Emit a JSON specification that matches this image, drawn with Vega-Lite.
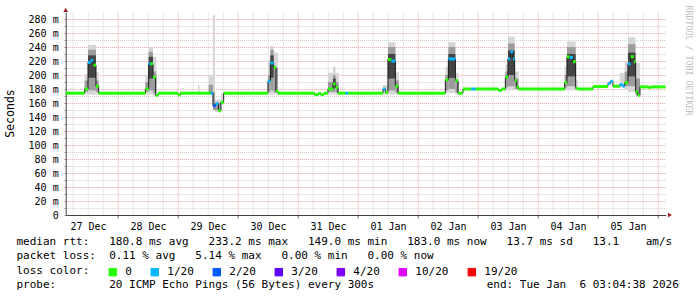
{
  "$schema": "https://vega.github.io/schema/vega-lite/v6.json",
  "width": 600,
  "height": 203,
  "autosize": "none",
  "padding": {"left": 65.69, "top": 12, "right": 31.31, "bottom": 82},
  "background": "white",
  "config": {"view": {"stroke": null}, "font": "DejaVu Sans Mono"},
  "datasets": {
    "median": [
      {"t":"2025-12-27T03:04","t2":"2025-12-27T10:40","ms":174,"loss":"0"},
      {"t":"2025-12-27T10:40","t2":"2025-12-27T12:00","ms":180,"loss":"0"},
      {"t":"2025-12-27T12:00","t2":"2025-12-27T13:04","ms":218,"loss":"1/20"},
      {"t":"2025-12-27T13:04","t2":"2025-12-27T14:09","ms":221,"loss":"1/20"},
      {"t":"2025-12-27T14:09","t2":"2025-12-27T15:11","ms":214,"loss":"0"},
      {"t":"2025-12-27T15:11","t2":"2025-12-27T16:16","ms":184,"loss":"0"},
      {"t":"2025-12-27T16:16","t2":"2025-12-28T10:57","ms":174,"loss":"0"},
      {"t":"2025-12-28T10:57","t2":"2025-12-28T12:16","ms":180,"loss":"0"},
      {"t":"2025-12-28T12:16","t2":"2025-12-28T13:04","ms":216,"loss":"1/20"},
      {"t":"2025-12-28T13:04","t2":"2025-12-28T13:59","ms":216,"loss":"0"},
      {"t":"2025-12-28T13:59","t2":"2025-12-28T15:04","ms":197,"loss":"0"},
      {"t":"2025-12-28T15:04","t2":"2025-12-28T16:04","ms":171,"loss":"0"},
      {"t":"2025-12-28T16:04","t2":"2025-12-29T00:00","ms":174,"loss":"0"},
      {"t":"2025-12-29T00:00","t2":"2025-12-29T00:57","ms":171.5,"loss":"0"},
      {"t":"2025-12-29T00:57","t2":"2025-12-29T13:04","ms":174,"loss":"0"},
      {"t":"2025-12-29T13:04","t2":"2025-12-29T13:59","ms":174,"loss":"1/20"},
      {"t":"2025-12-29T13:59","t2":"2025-12-29T15:04","ms":156,"loss":"2/20"},
      {"t":"2025-12-29T15:04","t2":"2025-12-29T16:09","ms":159,"loss":"1/20"},
      {"t":"2025-12-29T16:09","t2":"2025-12-29T17:11","ms":149,"loss":"0"},
      {"t":"2025-12-29T17:11","t2":"2025-12-29T18:16","ms":161,"loss":"0"},
      {"t":"2025-12-29T18:16","t2":"2025-12-30T11:59","ms":174,"loss":"0"},
      {"t":"2025-12-30T11:59","t2":"2025-12-30T12:57","ms":191,"loss":"1/20"},
      {"t":"2025-12-30T12:57","t2":"2025-12-30T14:16","ms":217,"loss":"1/20"},
      {"t":"2025-12-30T14:16","t2":"2025-12-30T15:11","ms":211,"loss":"0"},
      {"t":"2025-12-30T15:11","t2":"2025-12-30T15:59","ms":177,"loss":"0"},
      {"t":"2025-12-30T15:59","t2":"2025-12-31T06:40","ms":174,"loss":"0"},
      {"t":"2025-12-31T06:40","t2":"2025-12-31T08:16","ms":172,"loss":"0"},
      {"t":"2025-12-31T08:16","t2":"2025-12-31T09:04","ms":174,"loss":"0"},
      {"t":"2025-12-31T09:04","t2":"2025-12-31T10:23","ms":172,"loss":"0"},
      {"t":"2025-12-31T10:23","t2":"2025-12-31T11:59","ms":174,"loss":"0"},
      {"t":"2025-12-31T11:59","t2":"2025-12-31T13:59","ms":180,"loss":"0"},
      {"t":"2025-12-31T13:59","t2":"2025-12-31T15:04","ms":187,"loss":"0"},
      {"t":"2025-12-31T15:04","t2":"2025-12-31T15:59","ms":182,"loss":"0"},
      {"t":"2025-12-31T15:59","t2":"2025-12-31T18:57","ms":174,"loss":"0"},
      {"t":"2025-12-31T18:57","t2":"2025-12-31T19:59","ms":174,"loss":"1/20"},
      {"t":"2025-12-31T19:59","t2":"2026-01-01T09:59","ms":174,"loss":"0"},
      {"t":"2026-01-01T09:59","t2":"2026-01-01T10:57","ms":180,"loss":"1/20"},
      {"t":"2026-01-01T10:57","t2":"2026-01-01T11:59","ms":175,"loss":"0"},
      {"t":"2026-01-01T11:59","t2":"2026-01-01T13:21","ms":222,"loss":"0"},
      {"t":"2026-01-01T13:21","t2":"2026-01-01T14:57","ms":220,"loss":"1/20"},
      {"t":"2026-01-01T14:57","t2":"2026-01-01T15:59","ms":184,"loss":"0"},
      {"t":"2026-01-01T15:59","t2":"2026-01-02T10:57","ms":174,"loss":"0"},
      {"t":"2026-01-02T10:57","t2":"2026-01-02T12:09","ms":193,"loss":"0"},
      {"t":"2026-01-02T12:09","t2":"2026-01-02T14:57","ms":223,"loss":"1/20"},
      {"t":"2026-01-02T14:57","t2":"2026-01-02T15:59","ms":192,"loss":"0"},
      {"t":"2026-01-02T15:59","t2":"2026-01-02T17:59","ms":174,"loss":"0"},
      {"t":"2026-01-02T17:59","t2":"2026-01-02T21:21","ms":180,"loss":"0"},
      {"t":"2026-01-02T21:21","t2":"2026-01-02T23:04","ms":180,"loss":"1/20"},
      {"t":"2026-01-02T23:04","t2":"2026-01-03T08:16","ms":180,"loss":"0"},
      {"t":"2026-01-03T08:16","t2":"2026-01-03T09:28","ms":178,"loss":"0"},
      {"t":"2026-01-03T09:28","t2":"2026-01-03T10:57","ms":180,"loss":"0"},
      {"t":"2026-01-03T10:57","t2":"2026-01-03T11:59","ms":197,"loss":"0"},
      {"t":"2026-01-03T11:59","t2":"2026-01-03T12:57","ms":223,"loss":"1/20"},
      {"t":"2026-01-03T12:57","t2":"2026-01-03T13:59","ms":233.2,"loss":"1/20"},
      {"t":"2026-01-03T13:59","t2":"2026-01-03T14:40","ms":223,"loss":"1/20"},
      {"t":"2026-01-03T14:40","t2":"2026-01-03T15:28","ms":192,"loss":"0"},
      {"t":"2026-01-03T15:28","t2":"2026-01-03T16:16","ms":183,"loss":"0"},
      {"t":"2026-01-03T16:16","t2":"2026-01-04T10:40","ms":180,"loss":"0"},
      {"t":"2026-01-04T10:40","t2":"2026-01-04T11:35","ms":189,"loss":"0"},
      {"t":"2026-01-04T11:35","t2":"2026-01-04T12:40","ms":226,"loss":"0"},
      {"t":"2026-01-04T12:40","t2":"2026-01-04T13:59","ms":225,"loss":"1/20"},
      {"t":"2026-01-04T13:59","t2":"2026-01-04T15:04","ms":219,"loss":"0"},
      {"t":"2026-01-04T15:04","t2":"2026-01-04T15:52","ms":181,"loss":"0"},
      {"t":"2026-01-04T15:52","t2":"2026-01-04T21:59","ms":180,"loss":"0"},
      {"t":"2026-01-04T21:59","t2":"2026-01-05T03:59","ms":183.5,"loss":"0"},
      {"t":"2026-01-05T03:59","t2":"2026-01-05T04:57","ms":188,"loss":"1/20"},
      {"t":"2026-01-05T04:57","t2":"2026-01-05T05:59","ms":191,"loss":"1/20"},
      {"t":"2026-01-05T05:59","t2":"2026-01-05T08:40","ms":184,"loss":"0"},
      {"t":"2026-01-05T08:40","t2":"2026-01-05T09:59","ms":186,"loss":"1/20"},
      {"t":"2026-01-05T09:59","t2":"2026-01-05T10:40","ms":184,"loss":"1/20"},
      {"t":"2026-01-05T10:40","t2":"2026-01-05T11:59","ms":189,"loss":"0"},
      {"t":"2026-01-05T11:59","t2":"2026-01-05T13:04","ms":216,"loss":"1/20"},
      {"t":"2026-01-05T13:04","t2":"2026-01-05T14:23","ms":226,"loss":"0"},
      {"t":"2026-01-05T14:23","t2":"2026-01-05T15:04","ms":219,"loss":"0"},
      {"t":"2026-01-05T15:04","t2":"2026-01-05T15:52","ms":176,"loss":"0"},
      {"t":"2026-01-05T15:52","t2":"2026-01-05T16:47","ms":171,"loss":"0"},
      {"t":"2026-01-05T16:47","t2":"2026-01-05T20:16","ms":183,"loss":"0"},
      {"t":"2026-01-05T20:16","t2":"2026-01-05T21:04","ms":182,"loss":"0"},
      {"t":"2026-01-05T21:04","t2":"2026-01-06T03:04","ms":183,"loss":"0"}
    ],
    "smoke": [
      {"t":"2025-12-27T10:40","t2":"2025-12-27T12:00","lo":172,"hi":201,"s":"a"},
      {"t":"2025-12-27T12:00","t2":"2025-12-27T15:11","lo":172,"hi":243,"s":"a"},
      {"t":"2025-12-27T15:11","t2":"2025-12-27T16:16","lo":172,"hi":204,"s":"a"},
      {"t":"2025-12-28T10:57","t2":"2025-12-28T12:16","lo":172,"hi":199,"s":"a"},
      {"t":"2025-12-28T12:16","t2":"2025-12-28T13:59","lo":172,"hi":240,"s":"a"},
      {"t":"2025-12-28T13:59","t2":"2025-12-28T15:20","lo":170,"hi":226,"s":"a"},
      {"t":"2025-12-29T07:59","t2":"2025-12-29T08:40","lo":174,"hi":186,"s":"a"},
      {"t":"2025-12-29T12:16","t2":"2025-12-29T13:59","lo":172,"hi":200,"s":"a"},
      {"t":"2025-12-29T13:59","t2":"2025-12-29T14:47","lo":150,"hi":286,"s":"a"},
      {"t":"2025-12-29T14:47","t2":"2025-12-29T17:11","lo":147,"hi":165,"s":"a"},
      {"t":"2025-12-29T17:11","t2":"2025-12-29T18:16","lo":158,"hi":174,"s":"a"},
      {"t":"2025-12-30T11:59","t2":"2025-12-30T12:57","lo":172,"hi":222,"s":"a"},
      {"t":"2025-12-30T12:57","t2":"2025-12-30T14:16","lo":172,"hi":242,"s":"a"},
      {"t":"2025-12-30T14:16","t2":"2025-12-30T15:59","lo":172,"hi":232,"s":"a"},
      {"t":"2025-12-31T11:59","t2":"2025-12-31T13:59","lo":172,"hi":203,"s":"a"},
      {"t":"2025-12-31T13:59","t2":"2025-12-31T15:04","lo":172,"hi":212,"s":"a"},
      {"t":"2025-12-31T15:04","t2":"2025-12-31T16:16","lo":172,"hi":203,"s":"a"},
      {"t":"2026-01-01T09:59","t2":"2026-01-01T11:59","lo":172,"hi":186,"s":"a"},
      {"t":"2026-01-01T11:59","t2":"2026-01-01T14:57","lo":172,"hi":247,"s":"a"},
      {"t":"2026-01-01T14:57","t2":"2026-01-01T16:23","lo":172,"hi":204,"s":"a"},
      {"t":"2026-01-02T10:57","t2":"2026-01-02T12:09","lo":174,"hi":212,"s":"a"},
      {"t":"2026-01-02T12:09","t2":"2026-01-02T14:57","lo":174,"hi":247,"s":"a"},
      {"t":"2026-01-02T14:57","t2":"2026-01-02T16:16","lo":172,"hi":203,"s":"a"},
      {"t":"2026-01-03T10:57","t2":"2026-01-03T11:59","lo":178,"hi":215,"s":"a"},
      {"t":"2026-01-03T11:59","t2":"2026-01-03T14:40","lo":178,"hi":255,"s":"a"},
      {"t":"2026-01-03T14:40","t2":"2026-01-03T16:16","lo":178,"hi":205,"s":"a"},
      {"t":"2026-01-04T10:40","t2":"2026-01-04T11:35","lo":178,"hi":212,"s":"a"},
      {"t":"2026-01-04T11:35","t2":"2026-01-04T15:04","lo":178,"hi":248,"s":"a"},
      {"t":"2026-01-04T15:04","t2":"2026-01-04T15:52","lo":178,"hi":193,"s":"a"},
      {"t":"2026-01-05T08:40","t2":"2026-01-05T10:40","lo":182,"hi":203,"s":"a"},
      {"t":"2026-01-05T10:40","t2":"2026-01-05T11:59","lo":180,"hi":219,"s":"a"},
      {"t":"2026-01-05T11:59","t2":"2026-01-05T14:59","lo":176,"hi":254,"s":"a"},
      {"t":"2026-01-05T14:59","t2":"2026-01-05T16:47","lo":170,"hi":217,"s":"a"},
      {"t":"2025-12-27T10:40","t2":"2025-12-27T12:00","lo":176,"hi":192,"s":"b"},
      {"t":"2025-12-27T12:00","t2":"2025-12-27T15:11","lo":178,"hi":236,"s":"b"},
      {"t":"2025-12-27T15:11","t2":"2025-12-27T16:16","lo":176,"hi":192,"s":"b"},
      {"t":"2025-12-28T10:57","t2":"2025-12-28T12:16","lo":176,"hi":190,"s":"b"},
      {"t":"2025-12-28T12:16","t2":"2025-12-28T13:59","lo":178,"hi":233,"s":"b"},
      {"t":"2025-12-28T13:59","t2":"2025-12-28T15:20","lo":174,"hi":205,"s":"b"},
      {"t":"2025-12-29T12:16","t2":"2025-12-29T13:59","lo":174,"hi":186,"s":"b"},
      {"t":"2025-12-29T13:59","t2":"2025-12-29T14:47","lo":150,"hi":176,"s":"b"},
      {"t":"2025-12-29T14:47","t2":"2025-12-29T17:11","lo":150,"hi":160,"s":"b"},
      {"t":"2025-12-30T11:59","t2":"2025-12-30T12:57","lo":176,"hi":200,"s":"b"},
      {"t":"2025-12-30T12:57","t2":"2025-12-30T14:16","lo":178,"hi":236,"s":"b"},
      {"t":"2025-12-30T14:16","t2":"2025-12-30T15:59","lo":175,"hi":210,"s":"b"},
      {"t":"2025-12-31T11:59","t2":"2025-12-31T13:59","lo":176,"hi":190,"s":"b"},
      {"t":"2025-12-31T13:59","t2":"2025-12-31T15:04","lo":176,"hi":200,"s":"b"},
      {"t":"2025-12-31T15:04","t2":"2025-12-31T16:16","lo":175,"hi":190,"s":"b"},
      {"t":"2026-01-01T11:59","t2":"2026-01-01T14:57","lo":178,"hi":240,"s":"b"},
      {"t":"2026-01-01T14:57","t2":"2026-01-01T16:23","lo":175,"hi":192,"s":"b"},
      {"t":"2026-01-02T10:57","t2":"2026-01-02T12:09","lo":178,"hi":200,"s":"b"},
      {"t":"2026-01-02T12:09","t2":"2026-01-02T14:57","lo":180,"hi":240,"s":"b"},
      {"t":"2026-01-02T14:57","t2":"2026-01-02T16:16","lo":175,"hi":190,"s":"b"},
      {"t":"2026-01-03T10:57","t2":"2026-01-03T11:59","lo":182,"hi":205,"s":"b"},
      {"t":"2026-01-03T11:59","t2":"2026-01-03T14:40","lo":184,"hi":245,"s":"b"},
      {"t":"2026-01-03T14:40","t2":"2026-01-03T16:16","lo":180,"hi":195,"s":"b"},
      {"t":"2026-01-04T10:40","t2":"2026-01-04T11:35","lo":182,"hi":200,"s":"b"},
      {"t":"2026-01-04T11:35","t2":"2026-01-04T15:04","lo":184,"hi":240,"s":"b"},
      {"t":"2026-01-05T10:40","t2":"2026-01-05T11:59","lo":184,"hi":205,"s":"b"},
      {"t":"2026-01-05T11:59","t2":"2026-01-05T14:59","lo":184,"hi":244,"s":"b"},
      {"t":"2026-01-05T14:59","t2":"2026-01-05T16:47","lo":172,"hi":195,"s":"b"},
      {"t":"2025-12-27T12:00","t2":"2025-12-27T15:11","lo":196,"hi":228,"s":"c"},
      {"t":"2025-12-28T12:16","t2":"2025-12-28T13:59","lo":195,"hi":226,"s":"c"},
      {"t":"2025-12-30T12:57","t2":"2025-12-30T14:16","lo":196,"hi":228,"s":"c"},
      {"t":"2025-12-31T13:59","t2":"2025-12-31T15:04","lo":182,"hi":195,"s":"c"},
      {"t":"2026-01-01T11:59","t2":"2026-01-01T14:57","lo":195,"hi":230,"s":"c"},
      {"t":"2026-01-02T12:09","t2":"2026-01-02T14:57","lo":196,"hi":230,"s":"c"},
      {"t":"2026-01-03T11:59","t2":"2026-01-03T14:40","lo":200,"hi":235,"s":"c"},
      {"t":"2026-01-04T11:35","t2":"2026-01-04T15:04","lo":198,"hi":230,"s":"c"},
      {"t":"2026-01-05T11:59","t2":"2026-01-05T14:59","lo":198,"hi":232,"s":"c"}
    ],
    "arrows": [
      {"t":"2026-01-06T04:48","v":0,"shape":"triangle-right"},
      {"t":"2025-12-27T03:04","v":293,"shape":"triangle-up"}
    ]
  },
  "encoding": {
    "x": {
      "field": "t", "type": "temporal",
      "scale": {"domain": [{"year":2025,"month":12,"date":27,"hours":3,"minutes":4,"seconds":38},{"year":2026,"month":1,"date":6,"hours":3,"minutes":4,"seconds":38}], "nice": false},
      "axis": {
        "title": [
          "median\u00a0rtt:\u00a0\u00a0\u00a0180.8\u00a0ms\u00a0avg\u00a0\u00a0\u00a0233.2\u00a0ms\u00a0max\u00a0\u00a0\u00a0149.0\u00a0ms\u00a0min\u00a0\u00a0\u00a0183.0\u00a0ms\u00a0now\u00a0\u00a0\u00a013.7\u00a0ms\u00a0sd\u00a0\u00a0\u00a013.1\u00a0\u00a0\u00a0\u00a0am/s",
          "packet\u00a0loss:\u00a0\u00a00.11\u00a0%\u00a0avg\u00a0\u00a0\u00a05.14\u00a0%\u00a0max\u00a0\u00a0\u00a00.00\u00a0%\u00a0min\u00a0\u00a0\u00a00.00\u00a0%\u00a0now",
          "loss\u00a0color:",
          "probe:\u00a0\u00a0\u00a0\u00a0\u00a0\u00a0\u00a0\u00a020\u00a0ICMP\u00a0Echo\u00a0Pings\u00a0(56\u00a0Bytes)\u00a0every\u00a0300s\u00a0\u00a0\u00a0\u00a0\u00a0\u00a0\u00a0\u00a0\u00a0\u00a0\u00a0\u00a0\u00a0\u00a0\u00a0\u00a0\u00a0end:\u00a0Tue\u00a0Jan\u00a0\u00a06\u00a003:04:38\u00a02026"
        ],
        "titleFont": "DejaVu Sans Mono", "titleFontSize": 11, "titleFontWeight": "normal", "titleColor": "black",
        "titleAlign": "left", "titleBaseline": "alphabetic", "titleX": -49.69, "titleY": 29.5, "titleLineHeight": 14.4, "titleLimit": 2000,
        "tickCount": 40,
        "labelExpr": "timeFormat(datum.value, '%H') == '12' ? timeFormat(datum.value, '%d %b') : ''",
        "labelFont": "DejaVu Sans Mono", "labelFontSize": 10, "labelColor": "black", "labelPadding": 3,
        "labelOverlap": false, "labelFlush": false, "labelBound": false,
        "grid": true,
        "gridColor": {"condition": {"test": "timeFormat(datum.value, '%H') == '00'", "value": "#e8a0a0"}, "value": "#d0d0d0"},
        "gridDash": [1, 1],
        "ticks": true, "tickSize": 3,
        "tickColor": {"condition": {"test": "timeFormat(datum.value, '%H') == '00'", "value": "#707070"}, "value": "rgba(255,255,255,0)"},
        "domainColor": "#404040"
      }
    }
  },
  "layer": [
    {
      "data": {"name": "smoke"},
      "mark": {"type": "rect"},
      "encoding": {
        "x2": {"field": "t2"},
        "y": {
          "field": "lo", "type": "quantitative",
          "scale": {"domain": [0, 290], "nice": false},
          "axis": {
            "title": "Seconds", "titleFont": "DejaVu Sans Mono", "titleFontSize": 11.5, "titleFontWeight": "normal", "titleColor": "black",
            "titleX": -54.7, "titleY": 101, "titleAlign": "center", "titleBaseline": "middle", "titleAngle": 270,
            "values": [0,10,20,30,40,50,60,70,80,90,100,110,120,130,140,150,160,170,180,190,200,210,220,230,240,250,260,270,280],
            "labelExpr": "datum.value % 20 != 0 ? '' : (datum.value == 0 ? '0\u00a0\u00a0' : datum.value + '\u00a0m')",
            "labelFont": "DejaVu Sans Mono", "labelFontSize": 10, "labelColor": "black", "labelPadding": 5.5,
            "grid": true,
            "gridColor": {"condition": {"test": "datum.value % 20 == 0", "value": "#e8a0a0"}, "value": "#d0d0d0"},
            "gridDash": [1, 1],
            "tickSize": 2, "tickColor": "#b0b0b0",
            "domainColor": "#404040"
          }
        },
        "y2": {"field": "hi"},
        "fill": {"field": "s", "type": "nominal", "scale": {"domain": ["a", "b", "c"], "range": ["#d6d6d6", "#9c9c9c", "#454545"]}, "legend": null}
      }
    },
    {
      "data": {"name": "median"},
      "mark": {"type": "line", "interpolate": "step-after", "strokeWidth": 1, "color": "#1a1a1a"},
      "encoding": {
        "y": {
          "field": "ms", "type": "quantitative", "scale": {"domain": [0, 290], "nice": false},
          "axis": {
            "orient": "right", "title": "RRDTOOL\u00a0/\u00a0TOBI\u00a0OETIKER", "labels": false, "ticks": false, "domain": false, "grid": false,
            "titleAngle": 90, "titleAlign": "left", "titleBaseline": "middle", "titleX": 22.3, "titleY": -7,
            "titleFont": "DejaVu Sans Mono", "titleFontSize": 8.3, "titleFontWeight": "normal", "titleColor": "#c0c0c0", "titleLimit": 500
          }
        }
      }
    },
    {
      "data": {"name": "median"},
      "mark": {"type": "rule", "strokeWidth": 3},
      "encoding": {
        "x2": {"field": "t2"},
        "y": {"field": "ms", "type": "quantitative", "scale": {"domain": [0, 290], "nice": false}, "axis": null},
        "color": {
          "field": "loss", "type": "nominal",
          "scale": {"domain": ["0", "1/20", "2/20", "3/20", "4/20", "10/20", "19/20"], "range": ["#26ff00", "#00b8ff", "#0059ff", "#5e00ff", "#7e00ff", "#dd00ff", "#ff0000"]},
          "legend": {
            "title": null, "orient": "none", "legendX": 41.6, "legendY": 254.3, "direction": "horizontal",
            "symbolType": "square", "symbolSize": 56, "symbolStrokeWidth": 1,
            "labelFont": "DejaVu Sans Mono", "labelFontSize": 11, "labelColor": "black", "labelOffset": 7, "columnPadding": 16, "padding": 0,
            "encode": {"symbols": {"update": {"fill": {"scale": "color", "field": "value"}, "stroke": {"value": "black"}, "strokeWidth": {"value": 1}, "opacity": {"value": 1}, "fillOpacity": {"value": 1}}}}
          }
        }
      }
    },
    {
      "data": {"name": "arrows"},
      "mark": {"type": "point", "filled": true, "size": 22, "color": "#a02020", "opacity": 1},
      "encoding": {
        "y": {"field": "v", "type": "quantitative", "scale": {"domain": [0, 290], "nice": false}, "axis": null},
        "shape": {"field": "shape", "type": "nominal", "scale": null}
      }
    }
  ],
  "resolve": {"axis": {"y": "independent"}}
}
